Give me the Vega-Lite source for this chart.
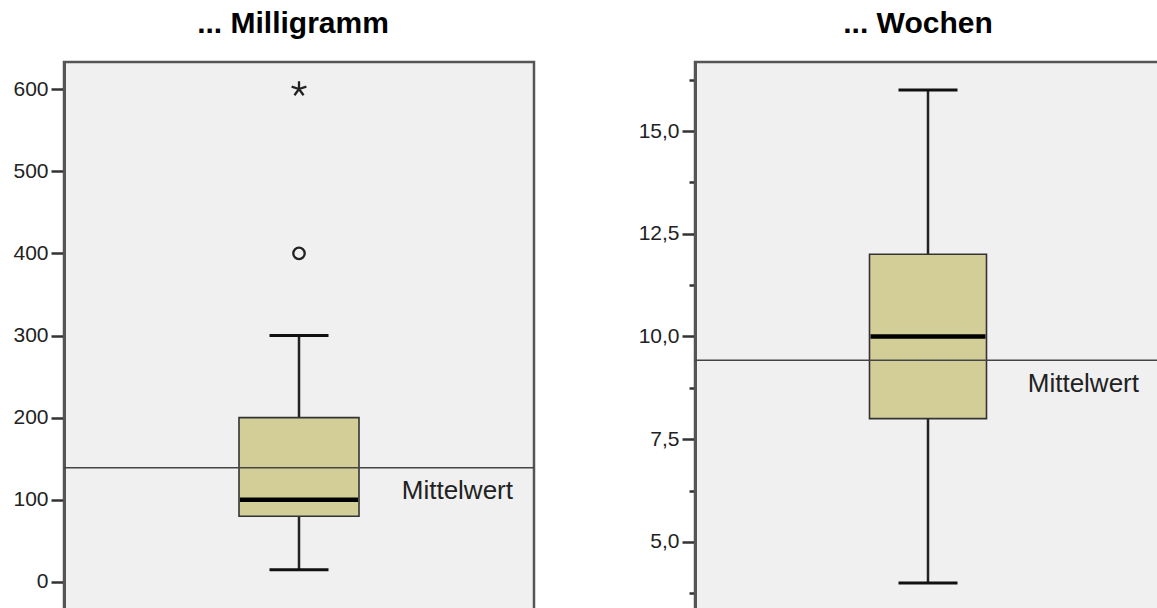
{
  "$schema": "https://vega.github.io/schema/vega-lite/v6.json",
  "padding": {"top": 7, "left": 0, "right": 0, "bottom": 0},
  "background": "white",
  "spacing": 86,
  "config": {
    "font": "Liberation Sans",
    "view": {"fill": "#F0F0F0", "stroke": "#555555", "strokeWidth": 2.5},
    "axis": {
      "domainColor": "#555555", "domainWidth": 3, "tickColor": "#333333", "tickWidth": 2.5, "tickSize": 13,
      "labelFont": "Liberation Sans", "labelFontSize": 21, "labelColor": "#222222", "labelPadding": 3, "grid": false, "title": null
    },
    "title": {"font": "Liberation Sans", "fontSize": 30, "fontWeight": "bold", "color": "#000000", "anchor": "middle", "offset": 23}
  },
  "hconcat": [
    {
      "width": 470,
      "height": 560,
      "title": {"text": "... Milligramm", "dx": -6},
      "data": {"values": [{"group": "Milligramm", "lower": 15, "q1": 80, "median": 100, "q3": 200, "upper": 300, "mean": 139}]},
      "layer": [
        {
          "mark": {"type": "rule", "color": "#222222", "strokeWidth": 2.5},
          "encoding": {
            "x": {"field": "group", "type": "nominal", "scale": {"paddingInner": 0, "paddingOuter": 1}, "axis": null},
            "y": {
              "field": "lower", "type": "quantitative",
              "scale": {"domain": [-48.7, 632.9], "nice": false, "zero": false},
              "axis": {"values": [0, 100, 200, 300, 400, 500, 600], "format": "d", "minExtent": 62, "maxExtent": 62}
            },
            "y2": {"field": "q1"}
          }
        },
        {
          "mark": {"type": "rule", "color": "#222222", "strokeWidth": 2.5},
          "encoding": {
            "x": {"field": "group", "type": "nominal", "axis": null},
            "y": {"field": "q3", "type": "quantitative"}, "y2": {"field": "upper"}
          }
        },
        {
          "mark": {"type": "tick", "color": "#111111", "size": 59, "thickness": 3, "opacity": 1},
          "encoding": {
            "x": {"field": "group", "type": "nominal", "axis": null},
            "y": {"field": "lower", "type": "quantitative"}
          }
        },
        {
          "mark": {"type": "tick", "color": "#111111", "size": 59, "thickness": 3, "opacity": 1},
          "encoding": {
            "x": {"field": "group", "type": "nominal", "axis": null},
            "y": {"field": "upper", "type": "quantitative"}
          }
        },
        {
          "mark": {"type": "bar", "fill": "#D3CE98", "stroke": "#333333", "strokeWidth": 1.6, "width": 120},
          "encoding": {
            "x": {"field": "group", "type": "nominal", "axis": null},
            "y": {"field": "q1", "type": "quantitative"}, "y2": {"field": "q3"}
          }
        },
        {
          "mark": {"type": "rule", "color": "#444444", "strokeWidth": 1.6},
          "encoding": {"y": {"field": "mean", "type": "quantitative"}}
        },
        {
          "mark": {"type": "tick", "color": "#000000", "size": 118, "thickness": 4.5, "opacity": 1},
          "encoding": {
            "x": {"field": "group", "type": "nominal", "axis": null},
            "y": {"field": "median", "type": "quantitative"}
          }
        },
        {
          "mark": {"type": "text", "text": "Mittelwert", "fontSize": 26, "color": "#222222", "align": "right", "baseline": "alphabetic", "dx": 214, "dy": 31},
          "encoding": {
            "x": {"field": "group", "type": "nominal", "axis": null},
            "y": {"field": "mean", "type": "quantitative"}
          }
        },
        {
          "data": {"values": [
            {"group": "Milligramm", "value": 400, "kind": "Ausreißer"},
            {"group": "Milligramm", "value": 600, "kind": "Extremwert"}
          ]},
          "mark": {"type": "point", "filled": false, "strokeWidth": 2.3, "color": "#222222", "opacity": 1},
          "encoding": {
            "x": {"field": "group", "type": "nominal", "axis": null},
            "y": {"field": "value", "type": "quantitative"},
            "shape": {
              "field": "kind", "type": "nominal", "legend": null,
              "scale": {"domain": ["Ausreißer", "Extremwert"], "range": ["circle", "M0,0L0,-1M0,0L0.951,-0.309M0,0L0.588,0.809M0,0L-0.588,0.809M0,0L-0.951,-0.309"]}
            },
            "size": {
              "field": "kind", "type": "nominal", "legend": null,
              "scale": {"domain": ["Ausreißer", "Extremwert"], "range": [130, 240]}
            }
          }
        }
      ]
    },
    {
      "width": 466,
      "height": 560,
      "title": {"text": "... Wochen", "dx": -10},
      "data": {"values": [{"group": "Wochen", "lower": 4, "q1": 8, "median": 10, "q3": 12, "upper": 16, "mean": 9.42}]},
      "layer": [
        {
          "mark": {"type": "rule", "color": "#222222", "strokeWidth": 2.5},
          "encoding": {
            "x": {"field": "group", "type": "nominal", "scale": {"paddingInner": 0, "paddingOuter": 1}, "axis": null},
            "y": {
              "field": "lower", "type": "quantitative",
              "scale": {"domain": [3.05, 16.68], "nice": false, "zero": false},
              "axis": {
                "values": [3.75, 5, 6.25, 7.5, 8.75, 10, 11.25, 12.5, 13.75, 15, 16.25],
                "labelExpr": "datum.value % 2.5 === 0 ? replace(format(datum.value, '.1f'), '.', ',') : ''",
                "tickSize": {"condition": {"test": "datum.value % 2.5 === 0", "value": 13}, "value": 6},
                "minExtent": 70, "maxExtent": 70
              }
            },
            "y2": {"field": "q1"}
          }
        },
        {
          "mark": {"type": "rule", "color": "#222222", "strokeWidth": 2.5},
          "encoding": {
            "x": {"field": "group", "type": "nominal", "axis": null},
            "y": {"field": "q3", "type": "quantitative"}, "y2": {"field": "upper"}
          }
        },
        {
          "mark": {"type": "tick", "color": "#111111", "size": 59, "thickness": 3, "opacity": 1},
          "encoding": {
            "x": {"field": "group", "type": "nominal", "axis": null},
            "y": {"field": "lower", "type": "quantitative"}
          }
        },
        {
          "mark": {"type": "tick", "color": "#111111", "size": 59, "thickness": 3, "opacity": 1},
          "encoding": {
            "x": {"field": "group", "type": "nominal", "axis": null},
            "y": {"field": "upper", "type": "quantitative"}
          }
        },
        {
          "mark": {"type": "bar", "fill": "#D3CE98", "stroke": "#333333", "strokeWidth": 1.6, "width": 117},
          "encoding": {
            "x": {"field": "group", "type": "nominal", "axis": null},
            "y": {"field": "q1", "type": "quantitative"}, "y2": {"field": "q3"}
          }
        },
        {
          "mark": {"type": "rule", "color": "#444444", "strokeWidth": 1.6},
          "encoding": {"y": {"field": "mean", "type": "quantitative"}}
        },
        {
          "mark": {"type": "tick", "color": "#000000", "size": 115, "thickness": 4.5, "opacity": 1},
          "encoding": {
            "x": {"field": "group", "type": "nominal", "axis": null},
            "y": {"field": "median", "type": "quantitative"}
          }
        },
        {
          "mark": {"type": "text", "text": "Mittelwert", "fontSize": 26, "color": "#222222", "align": "right", "baseline": "alphabetic", "dx": 211, "dy": 32},
          "encoding": {
            "x": {"field": "group", "type": "nominal", "axis": null},
            "y": {"field": "mean", "type": "quantitative"}
          }
        }
      ]
    }
  ]
}
